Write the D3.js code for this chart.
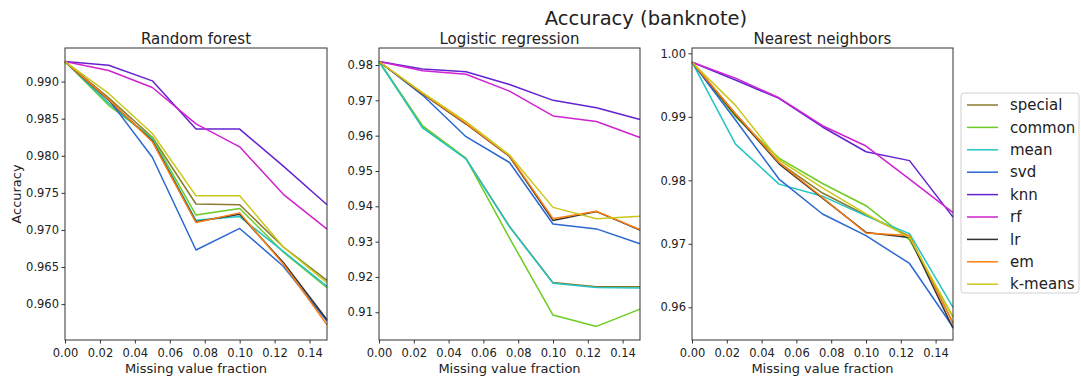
<!DOCTYPE html>
<html>
<head>
<meta charset="utf-8">
<script src="https://cdn.jsdelivr.net/npm/d3@7"></script>
<style>
  body { margin: 0; background: #fff; }
  svg text { font-family: "DejaVu Sans", sans-serif; fill: #222; }
</style>
</head>
<body>
<svg id="chart" width="1081" height="381"></svg>
<script>
// data
const fractions = [0, 0.025, 0.05, 0.075, 0.1, 0.125, 0.15];
const methods = ["special", "common", "mean", "svd", "knn", "rf", "lr", "em", "k-means"];
const methodColors = ["#8a7b2c", "#6ccc22", "#22c4c4", "#2a68d0", "#6422d0", "#d022d0", "#333333", "#ff7f10", "#c8c81a"];

const xTicks = [0, 0.02, 0.04, 0.06, 0.08, 0.1, 0.12, 0.14];
const rfTicks = [0.96, 0.965, 0.97, 0.975, 0.98, 0.985, 0.99];
const lrTicks = [0.91, 0.92, 0.93, 0.94, 0.95, 0.96, 0.97, 0.98];
const nnTicks = [0.96, 0.97, 0.98, 0.99, 1.0];

// Random forest
const rfSpecial = [0.9927, 0.9878, 0.9825, 0.9735, 0.9734, 0.9677, 0.9632];
const rfCommon  = [0.9927, 0.9868, 0.9824, 0.9720, 0.9729, 0.9670, 0.9622];
const rfMean    = [0.9927, 0.9871, 0.9822, 0.9713, 0.9718, 0.9671, 0.9624];
const rfSvd     = [0.9927, 0.9876, 0.9798, 0.9673, 0.9702, 0.9651, 0.9577];
const rfKnn     = [0.9927, 0.9922, 0.9901, 0.9836, 0.9836, 0.9786, 0.9734];
const rfRf      = [0.9927, 0.9915, 0.9892, 0.9843, 0.9812, 0.9748, 0.9701];
const rfLr      = [0.9927, 0.9875, 0.9820, 0.9711, 0.9721, 0.9656, 0.9579];
const rfEm      = [0.9927, 0.9876, 0.9819, 0.9710, 0.9723, 0.9654, 0.9572];
const rfKmeans  = [0.9927, 0.9884, 0.9830, 0.9746, 0.9746, 0.9677, 0.9629];

// Logistic regression
const lrSpecial = [0.9810, 0.9627, 0.9535, 0.9343, 0.9184, 0.9172, 0.9172];
const lrCommon  = [0.9810, 0.9628, 0.9536, 0.9310, 0.9092, 0.9060, 0.9109];
const lrMean    = [0.9810, 0.9622, 0.9534, 0.9342, 0.9182, 0.9170, 0.9169];
const lrSvd     = [0.9810, 0.9715, 0.9597, 0.9524, 0.9350, 0.9336, 0.9294];
const lrKnn     = [0.9810, 0.9789, 0.9781, 0.9745, 0.9700, 0.9679, 0.9646];
const lrRf      = [0.9810, 0.9784, 0.9774, 0.9726, 0.9656, 0.9640, 0.9595];
const lrLr      = [0.9810, 0.9718, 0.9633, 0.9541, 0.9360, 0.9385, 0.9333];
const lrEm      = [0.9810, 0.9720, 0.9635, 0.9543, 0.9365, 0.9386, 0.9334];
const lrKmeans  = [0.9810, 0.9722, 0.9640, 0.9545, 0.9397, 0.9365, 0.9372];

// Nearest neighbors
const nnSpecial = [0.9986, 0.9905, 0.9828, 0.9780, 0.9745, 0.9712, 0.9575];
const nnCommon  = [0.9986, 0.9900, 0.9835, 0.9795, 0.9760, 0.9706, 0.9585];
const nnMean    = [0.9986, 0.9857, 0.9794, 0.9775, 0.9744, 0.9716, 0.9600];
const nnSvd     = [0.9986, 0.9895, 0.9802, 0.9747, 0.9713, 0.9669, 0.9569];
const nnKnn     = [0.9986, 0.9958, 0.9929, 0.9884, 0.9845, 0.9831, 0.9742];
const nnRf      = [0.9986, 0.9961, 0.9930, 0.9886, 0.9854, 0.9802, 0.9749];
const nnLr      = [0.9986, 0.9903, 0.9826, 0.9772, 0.9718, 0.9710, 0.9567];
const nnEm      = [0.9986, 0.9905, 0.9828, 0.9773, 0.9717, 0.9713, 0.9575];
const nnKmeans  = [0.9986, 0.9918, 0.9832, 0.9788, 0.9747, 0.9710, 0.9585];

const panels = [
  { title: "Random forest", left: 65, right: 327, domain: [0.95516, 0.99453], ticks: rfTicks, fmt: d3.format(".3f"),
    series: [rfSpecial, rfCommon, rfMean, rfSvd, rfKnn, rfRf, rfLr, rfEm, rfKmeans] },
  { title: "Logistic regression", left: 379, right: 640, domain: [0.90215, 0.98482], ticks: lrTicks, fmt: d3.format(".2f"),
    series: [lrSpecial, lrCommon, lrMean, lrSvd, lrKnn, lrRf, lrLr, lrEm, lrKmeans] },
  { title: "Nearest neighbors", left: 692, right: 953, domain: [0.95485, 1.00084], ticks: nnTicks, fmt: d3.format(".2f"),
    series: [nnSpecial, nnCommon, nnMean, nnSvd, nnKnn, nnRf, nnLr, nnEm, nnKmeans] }
];

const plotTop = 48, plotBottom = 340;
const svg = d3.select("#chart");

svg.append("text")
  .attr("x", 646).attr("y", 25)
  .attr("text-anchor", "middle")
  .style("font-size", "19.5px")
  .text("Accuracy (banknote)");

panels.forEach(function (p, pi) {
  const x = d3.scaleLinear().domain([0, 0.15]).range([p.left, p.right]);
  const y = d3.scaleLinear().domain(p.domain).range([plotBottom, plotTop]);
  const g = svg.append("g");

  const line = d3.line()
    .x((d, i) => x(fractions[i]))
    .y(d => y(d));

  g.selectAll("path.series")
    .data(p.series)
    .enter()
    .append("path")
    .attr("class", "series")
    .attr("d", line)
    .attr("fill", "none")
    .attr("stroke", (d, i) => methodColors[i])
    .attr("stroke-width", 1.5)
    .attr("stroke-linejoin", "round");

  // axes
  const xAxis = g.append("g")
    .attr("transform", "translate(0," + plotBottom + ")")
    .call(d3.axisBottom(x).tickValues(xTicks).tickFormat(d3.format(".2f")).tickSizeOuter(0).tickSize(3.5));
  const yAxis = g.append("g")
    .attr("transform", "translate(" + p.left + ",0)")
    .call(d3.axisLeft(y).tickValues(p.ticks).tickFormat(p.fmt).tickSizeOuter(0).tickSize(3.5));
  [xAxis, yAxis].forEach(function (a) {
    a.select(".domain").remove();
    a.selectAll("line").attr("stroke", "#333");
    a.selectAll("text").style("font-size", "11.5px").style("font-family", "DejaVu Sans, sans-serif").attr("fill", "#222");
  });
  xAxis.selectAll("text").attr("dy", "0.95em");
  yAxis.selectAll("text").attr("x", -6);

  // frame
  g.append("rect")
    .attr("x", p.left).attr("y", plotTop)
    .attr("width", p.right - p.left).attr("height", plotBottom - plotTop)
    .attr("fill", "none").attr("stroke", "#333").attr("stroke-width", 1);

  g.append("text")
    .attr("x", (p.left + p.right) / 2).attr("y", 44)
    .attr("text-anchor", "middle")
    .style("font-size", "15px")
    .text(p.title);

  g.append("text")
    .attr("x", (p.left + p.right) / 2).attr("y", 373)
    .attr("text-anchor", "middle")
    .style("font-size", "13px")
    .text("Missing value fraction");

  if (pi === 0) {
    g.append("text")
      .attr("transform", "translate(21," + (plotTop + plotBottom) / 2 + ") rotate(-90)")
      .attr("text-anchor", "middle")
      .style("font-size", "13px")
      .text("Accuracy");
  }
});

// legend
const legend = svg.append("g").attr("transform", "translate(961,93)");
legend.append("rect")
  .attr("width", 118).attr("height", 200)
  .attr("rx", 3)
  .attr("fill", "#fff").attr("stroke", "#d0d0d0");
const items = legend.selectAll("g.item")
  .data(methods)
  .enter()
  .append("g")
  .attr("class", "item")
  .attr("transform", (d, i) => "translate(0," + (12 + i * 22.4) + ")");
items.append("line")
  .attr("x1", 6).attr("x2", 37)
  .attr("stroke", (d, i) => methodColors[i])
  .attr("stroke-width", 1.5);
items.append("text")
  .attr("x", 49).attr("dy", "0.35em")
  .style("font-size", "15px")
  .text(d => d);
</script>
</body>
</html>
